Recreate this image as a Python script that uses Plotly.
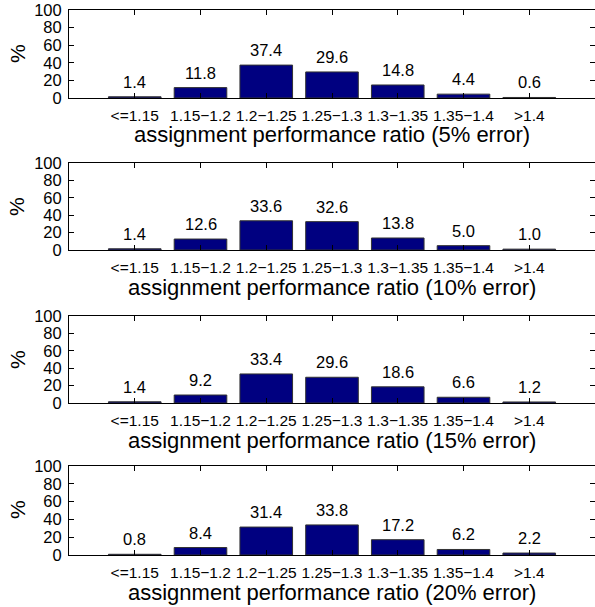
import plotly.graph_objects as go

categories = ["<=1.15", "1.15\u22121.2", "1.2\u22121.25", "1.25\u22121.3", "1.3\u22121.35", "1.35\u22121.4", ">1.4"]
err_5 = [1.4, 11.8, 37.4, 29.6, 14.8, 4.4, 0.6]
err_10 = [1.4, 12.6, 33.6, 32.6, 13.8, 5.0, 1.0]
err_15 = [1.4, 9.2, 33.4, 29.6, 18.6, 6.6, 1.2]
err_20 = [0.8, 8.4, 31.4, 33.8, 17.2, 6.2, 2.2]
series = [err_5, err_10, err_15, err_20]
titles = ["assignment performance ratio (5% error)",
          "assignment performance ratio (10% error)",
          "assignment performance ratio (15% error)",
          "assignment performance ratio (20% error)"]
y_ticks = [0, 20, 40, 60, 80, 100]

W, H = 595, 607
FONT = "Liberation Sans, Arial, Helvetica, sans-serif"
tops = [10, 163, 316, 466]
bots = [98, 250, 403, 555]

fig = go.Figure()
xpos = list(range(1, len(categories) + 1))
annotations = []
for k, vals in enumerate(series):
    ax = "" if k == 0 else str(k + 1)
    fig.add_trace(go.Bar(
        x=xpos, y=vals, width=0.8,
        marker=dict(color="#000080", line=dict(color="#333333", width=1)),
        xaxis="x" + ax, yaxis="y" + ax, showlegend=False, hoverinfo="skip",
    ))
    for xi, v in zip(xpos, vals):
        annotations.append(dict(
            text=f"{v:.1f}", xref="x" + ax, yref="y" + ax, x=xi, y=v,
            xanchor="center", yanchor="bottom", yshift=4, showarrow=False,
            font=dict(family=FONT, size=16.5, color="black"),
        ))
    dom = [1 - bots[k] / H, 1 - tops[k] / H]
    fig.layout["xaxis" + ax] = dict(
        domain=[0, 1], anchor="y" + ax, range=[0, 8], automargin=False,
        tickmode="array", tickvals=xpos, ticktext=categories, tickangle=0,
        ticks="inside", ticklen=5, tickcolor="black", tickwidth=1,
        showline=True, linecolor="black", linewidth=1, mirror="allticks",
        showgrid=False, zeroline=False, ticklabelstandoff=3,
        tickfont=dict(family=FONT, size=15.5, color="black"),
    )
    fig.layout["yaxis" + ax] = dict(
        domain=dom, anchor="x" + ax, range=[0, 100], automargin=False,
        tickmode="array", tickvals=y_ticks, ticktext=[str(t) for t in y_ticks],
        ticks="inside", ticklen=5, tickcolor="black", tickwidth=1,
        showline=True, linecolor="black", linewidth=1, mirror="ticks",
        showgrid=False, zeroline=False, ticklabelstandoff=3,
        tickfont=dict(family=FONT, size=16.5, color="black"),
    )
    annotations.append(dict(
        text=titles[k], xref="paper", yref="paper", x=0.5, y=1 - (bots[k] + 37) / H,
        xanchor="center", yanchor="middle", showarrow=False,
        font=dict(family=FONT, size=22, color="black"),
    ))
    annotations.append(dict(
        text="%", xref="paper", yref="paper", x=(17 - 69) / (W - 69), y=1 - (tops[k] + 44) / H,
        xanchor="center", yanchor="middle", showarrow=False, textangle=-90,
        font=dict(family=FONT, size=21, color="black"),
    ))

fig.update_layout(
    width=W, height=H, margin=dict(l=69, r=0, t=0, b=0, autoexpand=False),
    paper_bgcolor="white", plot_bgcolor="white",
    annotations=annotations, bargap=0.2,
)
fig.write_html("out.html", config={"displayModeBar": False},
               post_script="document.body.style.margin='0px';")
